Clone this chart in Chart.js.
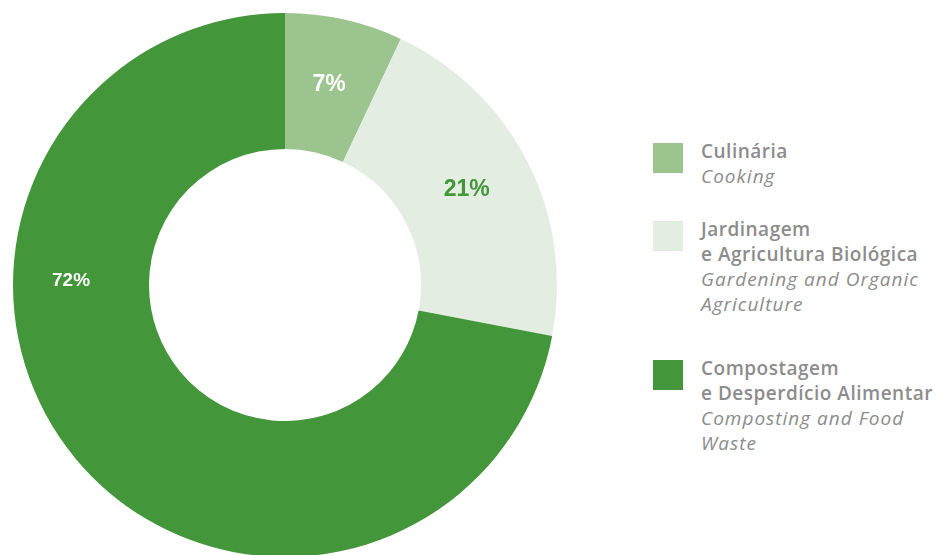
<!DOCTYPE html>
<html>
<head>
<meta charset="utf-8">
<script src="https://cdn.jsdelivr.net/npm/chart.js@4/dist/chart.umd.min.js"></script>
<style>
  html, body { margin: 0; padding: 0; background: #fff; overflow: hidden; }
  body { width: 936px; height: 555px; position: relative; font-family: "Open Sans", sans-serif; }
  #wrap { position: absolute; left: 0; top: 0; width: 570px; height: 570px; }
  #legende { position: absolute; left: 653px; top: 0; width: 283px; color: #8c8c8c; font-size: 19px; line-height: 25px; }
  .item { position: absolute; left: 0; }
  .carre { position: absolute; left: 0; width: 30px; height: 30px; }
  .texte { position: absolute; left: 48px; white-space: nowrap; }
  .pt { font-weight: 600; letter-spacing: 0.5px; }
  .en { font-style: italic; letter-spacing: 1px; }
</style>
</head>
<body>
<div id="wrap"><canvas id="graphique"></canvas></div>
<div id="legende"></div>
<script>
// donnees
var categories = ["Culinária", "Jardinagem e Agricultura Biológica", "Compostagem e Desperdício Alimentar"];
var valeurs = [7, 21, 72];
var etiquettes = ["7%", "21%", "72%"];
var couleurs = ["#9bc48e", "#e4ede1", "#43963a"];
var couleursTexte = ["#ffffff", "#43963a", "#ffffff"];
var lignesPt = [["Culinária"], ["Jardinagem", "e Agricultura Biológica"], ["Compostagem", "e Desperdício Alimentar"]];
var lignesEn = [["Cooking"], ["Gardening and Organic", "Agriculture"], ["Composting and Food", "Waste"]];

// legende html
var hautItems = [143, 221, 360];
var leg = document.getElementById("legende");
for (var i = 0; i < categories.length; i++) {
	var item = document.createElement("div");
	item.className = "item";
	item.style.top = hautItems[i] + "px";
	var html = '<div class="carre" style="background:' + couleurs[i] + '"></div><div class="texte" style="top:-4px">';
	lignesPt[i].forEach(function(l){ html += '<div class="pt">' + l + '</div>'; });
	lignesEn[i].forEach(function(l){ html += '<div class="en">' + l + '</div>'; });
	html += '</div>';
	item.innerHTML = html;
	leg.appendChild(item);
}

// etiquettes sur les parts (angle en degres depuis le haut, rayon en px)
var etiquettesPlugin = {
	id: 'etiquettes',
	afterDatasetsDraw: function(chart, args, opts) {
		var ctx = chart.ctx;
		var meta = chart.getDatasetMeta(0);
		meta.data.forEach(function(arc, i) {
			var a = opts.angles[i] * Math.PI / 180;
			var r = opts.rayons[i];
			var x = arc.x + r * Math.sin(a);
			var y = arc.y - r * Math.cos(a);
			ctx.save();
			ctx.font = '700 ' + opts.tailles[i] + 'px "Liberation Sans", Arial, sans-serif';
			ctx.fillStyle = couleursTexte[i];
			ctx.textAlign = 'center';
			ctx.textBaseline = 'middle';
			ctx.fillText(etiquettes[i], x, y);
			ctx.restore();
		});
	}
};

var ctx = document.getElementById("graphique").getContext("2d");
window.monGraph = new Chart(ctx, {
	type: 'doughnut',
	data: {
		labels: categories,
		datasets: [{
			data: valeurs,
			backgroundColor: couleurs,
			borderWidth: 0
		}]
	},
	options: {
		responsive: true,
		maintainAspectRatio: false,
		animation: false,
		cutout: '50%',
		layout: { padding: 13 },
		plugins: {
			legend: { display: false },
			tooltip: { enabled: false },
			etiquettes: {
				angles: [12.4, 62.4, 271],
				rayons: [205, 205, 214],
				tailles: [23, 23, 19]
			}
		}
	},
	plugins: [etiquettesPlugin]
});
</script>
</body>
</html>
